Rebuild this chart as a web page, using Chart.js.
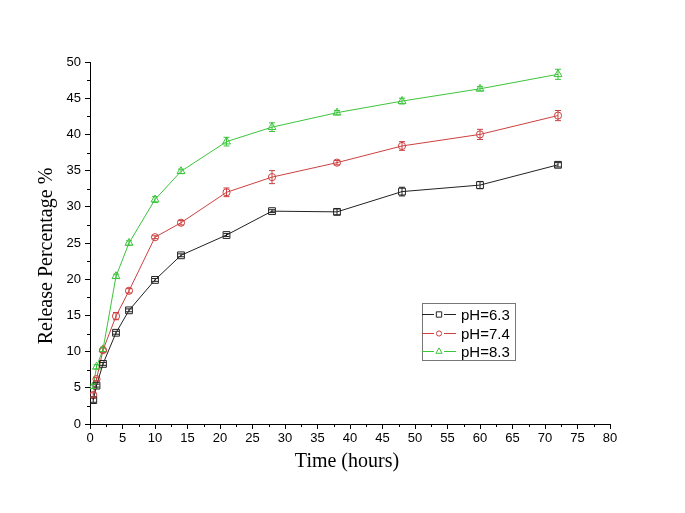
<!DOCTYPE html>
<html>
<head>
<meta charset="utf-8">
<script src="https://cdn.jsdelivr.net/npm/chart.js@4/dist/chart.umd.min.js"></script>
<style>
html, body { margin: 0; padding: 0; background: #fff; }
</style>
</head>
<body>
<canvas id="myChart" width="685" height="513"></canvas>
<script>
// data
const hours = [0.5, 1, 2, 4, 6, 10, 14, 21, 28, 38, 48, 60, 72];
const ph63 = [3.3, 5.3, 8.3, 12.6, 15.7, 19.9, 23.3, 26.1, 29.4, 29.3, 32.1, 33.0, 35.8];
const ph74 = [4.0, 6.2, 10.2, 14.9, 18.4, 25.8, 27.8, 32.0, 34.1, 36.1, 38.4, 40.0, 42.6];
const ph83 = [5.2, 7.9, 10.3, 20.4, 25.0, 31.0, 34.9, 39.0, 41.0, 43.0, 44.6, 46.3, 48.3];
const err63 = [0.3, 0.2, 0.2, 0.2, 0.2, 0.2, 0.2, 0.2, 0.2, 0.4, 0.6, 0.5, 0.3];
const err74 = [0.3, 0.2, 0.3, 0.5, 0.3, 0.2, 0.3, 0.6, 0.9, 0.3, 0.6, 0.7, 0.7];
const err83 = [0.3, 0.3, 0.3, 0.3, 0.3, 0.4, 0.3, 0.6, 0.6, 0.3, 0.4, 0.3, 0.7];
const seriesNames = ['pH=6.3', 'pH=7.4', 'pH=8.3'];
const xTitle = 'Time (hours)';
const yTitle = 'Release Percentage %';

const sansFont = '"Liberation Sans", Arial, sans-serif';
const serifFont = '"Liberation Serif", "Times New Roman", serif';

function pts(vals) {
    return hours.map((h, i) => ({ x: h, y: vals[i] }));
}

// error bars from the err arrays
const errorBars = {
    id: 'errorBars',
    afterDatasetsDraw(chart) {
        const ctx = chart.ctx;
        const ys = chart.scales.y;
        chart.data.datasets.forEach((ds, i) => {
            const meta = chart.getDatasetMeta(i);
            ctx.save();
            ctx.strokeStyle = ds.borderColor;
            ctx.lineWidth = 1;
            meta.data.forEach((p, j) => {
                const v = ds.data[j].y, e = ds.errors[j];
                const t = ys.getPixelForValue(v + e), b = ys.getPixelForValue(v - e);
                ctx.beginPath();
                ctx.moveTo(p.x, t); ctx.lineTo(p.x, b);
                ctx.moveTo(p.x - 3, t); ctx.lineTo(p.x + 3, t);
                ctx.moveTo(p.x - 3, b); ctx.lineTo(p.x + 3, b);
                ctx.stroke();
            });
            ctx.restore();
        });
    }
};

// minor ticks + axis titles
const minorTicks = {
    id: 'minorTicks',
    afterDraw(chart) {
        const ctx = chart.ctx, a = chart.chartArea;
        const xs = chart.scales.x, ys = chart.scales.y;
        ctx.save();
        ctx.strokeStyle = '#000';
        ctx.lineWidth = 1;
        ctx.beginPath();
        for (let v = 2.5; v < 80; v += 5) {
            const x = Math.round(xs.getPixelForValue(v)) + 0.5;
            ctx.moveTo(x, a.bottom); ctx.lineTo(x, a.bottom + 3);
        }
        for (let v = 2.5; v < 50; v += 5) {
            const y = Math.round(ys.getPixelForValue(v)) + 0.5;
            ctx.moveTo(a.left, y); ctx.lineTo(a.left - 3, y);
        }
        ctx.stroke();

        ctx.fillStyle = '#000';
        ctx.font = '20px ' + serifFont;
        ctx.textAlign = 'center';
        ctx.textBaseline = 'middle';
        ctx.fillText(xTitle, (a.left + a.right) / 2 - 3, 462);

        // y title sits a bit below the axis middle in the original
        ctx.translate(47, 256);
        ctx.rotate(-Math.PI / 2);
        ctx.fillText(yTitle, 0, 0);
        ctx.restore();
    }
};

// boxed legend inside the plot
const legendBox = {
    id: 'legendBox',
    afterDraw(chart) {
        const ctx = chart.ctx;
        const bx = 422, by = 303, bw = 93, bh = 57;
        ctx.save();
        ctx.strokeStyle = '#777';
        ctx.lineWidth = 1;
        ctx.strokeRect(bx + 0.5, by + 0.5, bw, bh);
        ctx.font = '15px ' + sansFont;
        ctx.textBaseline = 'middle';
        chart.data.datasets.forEach((ds, i) => {
            const y = Math.round(by + 11 + i * 18.5) + 0.5;
            ctx.strokeStyle = ds.borderColor;
            ctx.beginPath();
            ctx.moveTo(bx, y); ctx.lineTo(bx + 12, y);
            ctx.moveTo(bx + 22, y); ctx.lineTo(bx + 34, y);
            ctx.stroke();
            ctx.fillStyle = '#fff';
            Chart.helpers.drawPoint(ctx, {
                pointStyle: ds.pointStyle, radius: ds.pointRadius - 1,
                borderWidth: 1
            }, bx + 17, y);
            ctx.fillStyle = '#000';
            ctx.fillText(ds.label, bx + 39, y + 1);
        });
        ctx.restore();
    }
};

const ctx = document.getElementById('myChart').getContext('2d');
const myChart = new Chart(ctx, {
    type: 'line',
    data: {
        datasets: [{
            label: seriesNames[0],
            data: pts(ph63),
            errors: err63,
            borderColor: '#222222',
            pointStyle: 'rect',
            pointRadius: 4.8
        }, {
            label: seriesNames[1],
            data: pts(ph74),
            errors: err74,
            borderColor: '#cc4040',
            pointStyle: 'circle',
            pointRadius: 3.6
        }, {
            label: seriesNames[2],
            data: pts(ph83),
            errors: err83,
            borderColor: '#3cc43c',
            pointStyle: 'triangle',
            pointRadius: 4.6
        }]
    },
    options: {
        responsive: false,
        animation: false,
        layout: { padding: { left: 0, right: 75, top: 62, bottom: 0 } },
        elements: {
            line: { borderWidth: 1, tension: 0, fill: false },
            point: { backgroundColor: 'rgba(255,255,255,0)', borderWidth: 1, hoverRadius: 4 }
        },
        plugins: {
            legend: { display: false },
            tooltip: { enabled: false }
        },
        scales: {
            x: {
                type: 'linear',
                min: 0,
                max: 80,
                ticks: { stepSize: 5, color: '#000', padding: 2, font: { family: sansFont, size: 13 } },
                grid: { drawOnChartArea: false, tickLength: 5, tickColor: '#000' },
                border: { color: '#000', width: 1 },
                afterFit(s) { s.height = 89; }
            },
            y: {
                min: 0,
                max: 50,
                ticks: { stepSize: 5, color: '#000', padding: 4, font: { family: sansFont, size: 13 } },
                grid: { drawOnChartArea: false, tickLength: 5, tickColor: '#000' },
                border: { color: '#000', width: 1 },
                afterFit(s) { s.width = 90; }
            }
        }
    },
    plugins: [errorBars, minorTicks, legendBox]
});
</script>
</body>
</html>
